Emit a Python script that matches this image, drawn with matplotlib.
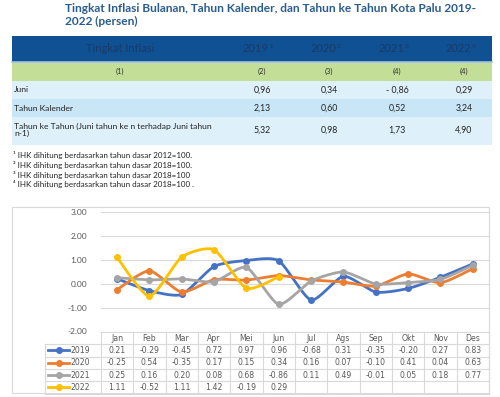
import numpy as np
import matplotlib
matplotlib.use('Agg')
import matplotlib.pyplot as plt
from matplotlib.patches import Rectangle
from matplotlib.lines import Line2D

plt.rcParams['font.family'] = ['Lato', 'DejaVu Sans']

# --- data ---
title = 'Tingkat Inflasi Bulanan, Tahun Kalender, dan Tahun ke Tahun Kota Palu 2019-\n2022 (persen)'
table_years = ['2019', '2020', '2021', '2022']
year_notes = ['1)', '2)', '3)', '4)']
col_numbers = ['(1)', '(2)', '(3)', '(4)', '(4)']
row_labels = ['Juni', 'Tahun Kalender',
              'Tahun ke Tahun (Juni tahun ke n terhadap Juni tahun\nn-1)']
row_values = [['0,96', '0,34', '- 0,86', '0,29'],
              ['2,13', '0,60', '0,52', '3,24'],
              ['5,32', '0,98', '1,73', '4,90']]
footnotes = ['\u00b9 IHK dihitung berdasarkan tahun dasar 2012=100.',
             '\u00b2 IHK dihitung berdasarkan tahun dasar 2018=100.',
             '\u00b3 IHK dihitung berdasarkan tahun dasar 2018=100',
             '\u2074 IHK dihitung berdasarkan tahun dasar 2018=100 .']

months = ['Jan', 'Feb', 'Mar', 'Apr', 'Mei', 'Jun', 'Jul', 'Ags', 'Sep', 'Okt', 'Nov', 'Des']
series_names = ['2019', '2020', '2021', '2022']
v2019 = [0.21, -0.29, -0.45, 0.72, 0.97, 0.96, -0.68, 0.31, -0.35, -0.20, 0.27, 0.83]
v2020 = [-0.25, 0.54, -0.35, 0.17, 0.15, 0.34, 0.16, 0.07, -0.10, 0.41, 0.04, 0.63]
v2021 = [0.25, 0.16, 0.20, 0.08, 0.68, -0.86, 0.11, 0.49, -0.01, 0.05, 0.18, 0.77]
v2022 = [1.11, -0.52, 1.11, 1.42, -0.19, 0.29]
series = [v2019, v2020, v2021, v2022]
colors = ['#4472c4', '#ed7d31', '#a5a5a5', '#ffc000']

W, H = 500, 397
fig = plt.figure(figsize=(W / 100, H / 100), dpi=100)


def fx(x):
    return x / W


def fy(y):
    return 1 - y / H


def box(x0, y0, x1, y1, color, ec='none', lw=0):
    fig.add_artist(Rectangle((fx(x0), fy(y1)), fx(x1 - x0), (y1 - y0) / H,
                             transform=fig.transFigure, facecolor=color,
                             edgecolor=ec, linewidth=lw))


def hline(x0, x1, y, color='#d9d9d9', lw=0.8):
    fig.add_artist(Line2D([fx(x0), fx(x1)], [fy(y), fy(y)], transform=fig.transFigure,
                          color=color, linewidth=lw))


def vline(x, y0, y1, color='#d9d9d9', lw=0.8):
    fig.add_artist(Line2D([fx(x), fx(x)], [fy(y0), fy(y1)], transform=fig.transFigure,
                          color=color, linewidth=lw))


# title
fig.text(fx(65), fy(3), title, fontsize=8.6, fontweight='bold', color='#2a5d8f',
         va='top', ha='left', linespacing=1.25)

# top table
col_x = [120, 262, 329, 397, 464]
box(12, 36, 492, 62, '#0f5192')
box(12, 62, 492, 81, '#c3de97')
box(12, 81, 492, 99, '#def0fa')
box(12, 99, 492, 117, '#c9e6f6')
box(12, 117, 492, 145, '#def0fa')
hline(12, 492, 62, color='#9dc3e6', lw=1.2)

head_c = '#1a3a68'
fig.text(fx(col_x[0]), fy(49), 'Tingkat Inflasi', fontsize=8, color=head_c,
         ha='center', va='center')
for i, yr in enumerate(table_years):
    fig.text(fx(col_x[i + 1] + 7), fy(49), yr, fontsize=8, color=head_c,
             ha='right', va='center')
    fig.text(fx(col_x[i + 1] + 7.5), fy(46), year_notes[i], fontsize=4, color=head_c,
             ha='left', va='center')
for i, c in enumerate(col_numbers):
    fig.text(fx(col_x[i]), fy(71.5), c, fontsize=5.3, color='#333333',
             ha='center', va='center')
row_y = [90, 108, 130]
for r, lab in enumerate(row_labels):
    fig.text(fx(14), fy(row_y[r]), lab, fontsize=6.1, color='#222222',
             ha='left', va='center', linespacing=0.95)
    for i, v in enumerate(row_values[r]):
        fig.text(fx(col_x[i + 1]), fy(row_y[r]), v, fontsize=6.3, color='#222222',
                 ha='center', va='center')

# footnotes
for i, note in enumerate(footnotes):
    fig.text(fx(13), fy(155.5 + 9.6 * i), note, fontsize=5.8, color='#222222',
             ha='left', va='center')

# chart frame
box(12, 207, 489, 393, 'none', ec='#d9d9d9', lw=0.8)

# chart axes
x_left, x_right = 100.8, 489
y_top, y_bot = 212, 331.5
ax = fig.add_axes([fx(x_left), fy(y_bot), fx(x_right - x_left), (y_bot - y_top) / H])
ax.set_xlim(-0.5, len(months) - 0.5)
ax.set_ylim(-2, 3)
ax.set_yticks([-2, -1, 0, 1, 2, 3])
ax.set_yticklabels(['%.2f' % t for t in [-2, -1, 0, 1, 2, 3]])
ax.tick_params(axis='y', length=0, labelsize=6, labelcolor='#595959', pad=10)
ax.set_xticks([])
for s in ax.spines.values():
    s.set_visible(False)
ax.grid(axis='y', color='#d9d9d9', linewidth=0.8)
ax.set_axisbelow(True)
ax.patch.set_alpha(0)


def smooth(xs, ys, n=20, k=0.33):
    # cardinal spline through the points (like excel smoothed lines)
    xs = np.asarray(xs, float)
    ys = np.asarray(ys, float)
    px = np.concatenate([[xs[0]], xs, [xs[-1]]])
    py = np.concatenate([[ys[0]], ys, [ys[-1]]])
    outx, outy = [], []
    t = np.linspace(0, 1, n)
    h00 = 2 * t ** 3 - 3 * t ** 2 + 1
    h10 = t ** 3 - 2 * t ** 2 + t
    h01 = -2 * t ** 3 + 3 * t ** 2
    h11 = t ** 3 - t ** 2
    for i in range(1, len(px) - 2):
        for p, out in ((px, outx), (py, outy)):
            p0, p1, p2, p3 = p[i - 1], p[i], p[i + 1], p[i + 2]
            m1 = k * (p2 - p0)
            m2 = k * (p3 - p1)
            out.extend(h00 * p1 + h10 * m1 + h01 * p2 + h11 * m2)
    return outx, outy


for vals, col in zip(series, colors):
    xs = np.arange(len(vals))
    sx, sy = smooth(xs, vals)
    ax.plot(sx, sy, color=col, linewidth=2, solid_capstyle='round')
    ax.plot(xs, vals, 'o', color=col, markersize=4)

# data table below chart
col_w = (x_right - x_left) / len(months)
tab_top = 332
rh = 12.3
grid_c = '#d9d9d9'
hline(x_left, x_right, tab_top, grid_c)
for r in range(len(series) + 1):
    hline(45, x_right, tab_top + rh * (r + 1), grid_c)
vline(45, tab_top + rh, tab_top + rh * 5, grid_c)
for j in range(len(months) + 1):
    vline(x_left + col_w * j, tab_top, tab_top + rh * 5, grid_c)
for j, m in enumerate(months):
    fig.text(fx(x_left + col_w * (j + 0.5)), fy(tab_top + rh * 0.5), m, fontsize=5.6,
             color='#595959', ha='center', va='center', family='DejaVu Sans')
for r, (name, vals, col) in enumerate(zip(series_names, series, colors)):
    yc = tab_top + rh * (r + 1.5)
    fig.add_artist(Line2D([fx(48), fx(69)], [fy(yc), fy(yc)], transform=fig.transFigure,
                          color=col, linewidth=2))
    fig.add_artist(Line2D([fx(58.5)], [fy(yc)], transform=fig.transFigure, marker='o',
                          color=col, markersize=4))
    fig.text(fx(70), fy(yc), name, fontsize=5.6, color='#595959', ha='left', va='center',
             family='DejaVu Sans')
    for j, v in enumerate(vals):
        fig.text(fx(x_left + col_w * (j + 0.5)), fy(yc), '%.2f' % v, fontsize=5.6,
                 color='#595959', ha='center', va='center', family='DejaVu Sans')

fig.savefig('out.png', dpi=100)
